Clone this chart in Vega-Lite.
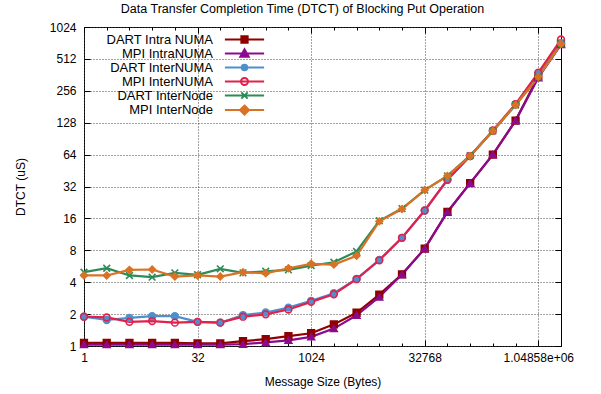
{
  "$schema": "https://vega.github.io/schema/vega-lite/v6.json",
  "width": 477,
  "height": 319,
  "autosize": {"type": "none"},
  "padding": {"left": 84, "top": 27, "right": 40, "bottom": 48},
  "config": {
    "font": "Liberation Sans",
    "view": {"stroke": "#000", "strokeWidth": 1},
    "axis": {"labelFont": "Liberation Sans", "titleFont": "Liberation Sans", "labelFontSize": 12, "titleFontSize": 12, "titleFontWeight": "normal", "labelColor": "#000", "titleColor": "#000", "tickColor": "#000", "domain": false}
  },
  "title": {"text": "Data Transfer Completion Time (DTCT) of Blocking Put Operation", "fontSize": 12.5, "fontWeight": "normal", "font": "Liberation Sans", "color": "#000", "anchor": "middle", "offset": 6, "dx": -20},
  "data": {"values": [
    {"s": "DART Intra NUMA", "x": 1, "y": 1.07}, {"s": "DART Intra NUMA", "x": 2, "y": 1.07}, {"s": "DART Intra NUMA", "x": 4, "y": 1.07}, {"s": "DART Intra NUMA", "x": 8, "y": 1.07}, {"s": "DART Intra NUMA", "x": 16, "y": 1.07}, {"s": "DART Intra NUMA", "x": 32, "y": 1.06}, {"s": "DART Intra NUMA", "x": 64, "y": 1.06}, {"s": "DART Intra NUMA", "x": 128, "y": 1.11}, {"s": "DART Intra NUMA", "x": 256, "y": 1.16}, {"s": "DART Intra NUMA", "x": 512, "y": 1.24}, {"s": "DART Intra NUMA", "x": 1024, "y": 1.32}, {"s": "DART Intra NUMA", "x": 2048, "y": 1.6}, {"s": "DART Intra NUMA", "x": 4096, "y": 2.06}, {"s": "DART Intra NUMA", "x": 8192, "y": 3.05}, {"s": "DART Intra NUMA", "x": 16384, "y": 4.75}, {"s": "DART Intra NUMA", "x": 32768, "y": 8.3}, {"s": "DART Intra NUMA", "x": 65536, "y": 18.4}, {"s": "DART Intra NUMA", "x": 131072, "y": 34.4}, {"s": "DART Intra NUMA", "x": 262144, "y": 64}, {"s": "DART Intra NUMA", "x": 524288, "y": 134}, {"s": "DART Intra NUMA", "x": 1048576, "y": 350}, {"s": "DART Intra NUMA", "x": 2097152, "y": 710},
    {"s": "MPI IntraNUMA", "x": 1, "y": 1.03}, {"s": "MPI IntraNUMA", "x": 2, "y": 1.03}, {"s": "MPI IntraNUMA", "x": 4, "y": 1.03}, {"s": "MPI IntraNUMA", "x": 8, "y": 1.03}, {"s": "MPI IntraNUMA", "x": 16, "y": 1.03}, {"s": "MPI IntraNUMA", "x": 32, "y": 1.03}, {"s": "MPI IntraNUMA", "x": 64, "y": 1.03}, {"s": "MPI IntraNUMA", "x": 128, "y": 1.04}, {"s": "MPI IntraNUMA", "x": 256, "y": 1.08}, {"s": "MPI IntraNUMA", "x": 512, "y": 1.13}, {"s": "MPI IntraNUMA", "x": 1024, "y": 1.22}, {"s": "MPI IntraNUMA", "x": 2048, "y": 1.46}, {"s": "MPI IntraNUMA", "x": 4096, "y": 1.95}, {"s": "MPI IntraNUMA", "x": 8192, "y": 2.9}, {"s": "MPI IntraNUMA", "x": 16384, "y": 4.72}, {"s": "MPI IntraNUMA", "x": 32768, "y": 8.3}, {"s": "MPI IntraNUMA", "x": 65536, "y": 18.4}, {"s": "MPI IntraNUMA", "x": 131072, "y": 34.4}, {"s": "MPI IntraNUMA", "x": 262144, "y": 64}, {"s": "MPI IntraNUMA", "x": 524288, "y": 134}, {"s": "MPI IntraNUMA", "x": 1048576, "y": 340}, {"s": "MPI IntraNUMA", "x": 2097152, "y": 700},
    {"s": "DART InterNUMA", "x": 1, "y": 1.89}, {"s": "DART InterNUMA", "x": 2, "y": 1.76}, {"s": "DART InterNUMA", "x": 4, "y": 1.84}, {"s": "DART InterNUMA", "x": 8, "y": 1.91}, {"s": "DART InterNUMA", "x": 16, "y": 1.91}, {"s": "DART InterNUMA", "x": 32, "y": 1.69}, {"s": "DART InterNUMA", "x": 64, "y": 1.66}, {"s": "DART InterNUMA", "x": 128, "y": 1.96}, {"s": "DART InterNUMA", "x": 256, "y": 2.07}, {"s": "DART InterNUMA", "x": 512, "y": 2.3}, {"s": "DART InterNUMA", "x": 1024, "y": 2.67}, {"s": "DART InterNUMA", "x": 2048, "y": 3.15}, {"s": "DART InterNUMA", "x": 4096, "y": 4.3}, {"s": "DART InterNUMA", "x": 8192, "y": 6.5}, {"s": "DART InterNUMA", "x": 16384, "y": 10.5}, {"s": "DART InterNUMA", "x": 32768, "y": 19}, {"s": "DART InterNUMA", "x": 65536, "y": 37}, {"s": "DART InterNUMA", "x": 131072, "y": 62}, {"s": "DART InterNUMA", "x": 262144, "y": 107}, {"s": "DART InterNUMA", "x": 524288, "y": 190}, {"s": "DART InterNUMA", "x": 1048576, "y": 370}, {"s": "DART InterNUMA", "x": 2097152, "y": 720},
    {"s": "MPI InterNUMA", "x": 1, "y": 1.89}, {"s": "MPI InterNUMA", "x": 2, "y": 1.86}, {"s": "MPI InterNUMA", "x": 4, "y": 1.69}, {"s": "MPI InterNUMA", "x": 8, "y": 1.72}, {"s": "MPI InterNUMA", "x": 16, "y": 1.66}, {"s": "MPI InterNUMA", "x": 32, "y": 1.69}, {"s": "MPI InterNUMA", "x": 64, "y": 1.66}, {"s": "MPI InterNUMA", "x": 128, "y": 1.89}, {"s": "MPI InterNUMA", "x": 256, "y": 1.99}, {"s": "MPI InterNUMA", "x": 512, "y": 2.21}, {"s": "MPI InterNUMA", "x": 1024, "y": 2.61}, {"s": "MPI InterNUMA", "x": 2048, "y": 3.08}, {"s": "MPI InterNUMA", "x": 4096, "y": 4.27}, {"s": "MPI InterNUMA", "x": 8192, "y": 6.44}, {"s": "MPI InterNUMA", "x": 16384, "y": 10.5}, {"s": "MPI InterNUMA", "x": 32768, "y": 19}, {"s": "MPI InterNUMA", "x": 65536, "y": 37}, {"s": "MPI InterNUMA", "x": 131072, "y": 62}, {"s": "MPI InterNUMA", "x": 262144, "y": 108}, {"s": "MPI InterNUMA", "x": 524288, "y": 192}, {"s": "MPI InterNUMA", "x": 1048576, "y": 380}, {"s": "MPI InterNUMA", "x": 2097152, "y": 780},
    {"s": "DART InterNode", "x": 1, "y": 4.97}, {"s": "DART InterNode", "x": 2, "y": 5.42}, {"s": "DART InterNode", "x": 4, "y": 4.63}, {"s": "DART InterNode", "x": 8, "y": 4.46}, {"s": "DART InterNode", "x": 16, "y": 4.9}, {"s": "DART InterNode", "x": 32, "y": 4.7}, {"s": "DART InterNode", "x": 64, "y": 5.35}, {"s": "DART InterNode", "x": 128, "y": 4.9}, {"s": "DART InterNode", "x": 256, "y": 5.07}, {"s": "DART InterNode", "x": 512, "y": 5.23}, {"s": "DART InterNode", "x": 1024, "y": 5.74}, {"s": "DART InterNode", "x": 2048, "y": 6.17}, {"s": "DART InterNode", "x": 4096, "y": 7.8}, {"s": "DART InterNode", "x": 8192, "y": 15.2}, {"s": "DART InterNode", "x": 16384, "y": 19.8}, {"s": "DART InterNode", "x": 32768, "y": 29.6}, {"s": "DART InterNode", "x": 65536, "y": 40.3}, {"s": "DART InterNode", "x": 131072, "y": 62.5}, {"s": "DART InterNode", "x": 262144, "y": 107}, {"s": "DART InterNode", "x": 524288, "y": 188}, {"s": "DART InterNode", "x": 1048576, "y": 345}, {"s": "DART InterNode", "x": 2097152, "y": 710},
    {"s": "MPI InterNode", "x": 1, "y": 4.63}, {"s": "MPI InterNode", "x": 2, "y": 4.63}, {"s": "MPI InterNode", "x": 4, "y": 5.23}, {"s": "MPI InterNode", "x": 8, "y": 5.27}, {"s": "MPI InterNode", "x": 16, "y": 4.52}, {"s": "MPI InterNode", "x": 32, "y": 4.63}, {"s": "MPI InterNode", "x": 64, "y": 4.52}, {"s": "MPI InterNode", "x": 128, "y": 4.97}, {"s": "MPI InterNode", "x": 256, "y": 4.85}, {"s": "MPI InterNode", "x": 512, "y": 5.42}, {"s": "MPI InterNode", "x": 1024, "y": 5.96}, {"s": "MPI InterNode", "x": 2048, "y": 5.87}, {"s": "MPI InterNode", "x": 4096, "y": 7.1}, {"s": "MPI InterNode", "x": 8192, "y": 15}, {"s": "MPI InterNode", "x": 16384, "y": 19.6}, {"s": "MPI InterNode", "x": 32768, "y": 29.6}, {"s": "MPI InterNode", "x": 65536, "y": 40.3}, {"s": "MPI InterNode", "x": 131072, "y": 62.2}, {"s": "MPI InterNode", "x": 262144, "y": 107}, {"s": "MPI InterNode", "x": 524288, "y": 188}, {"s": "MPI InterNode", "x": 1048576, "y": 345}, {"s": "MPI InterNode", "x": 2097152, "y": 709}
  ]},
  "layer": [
    {
      "mark": {"type": "line", "strokeWidth": 2.2, "clip": true},
      "encoding": {
        "x": {"field": "x", "type": "quantitative",
          "scale": {"type": "log", "base": 2, "domain": [1, 2097152], "nice": false},
          "axis": {"orient": "bottom", "title": "Message Size (Bytes)", "titlePadding": 10,
            "values": [1,2,4,8,16,32,64,128,256,512,1024,2048,4096,8192,16384,32768,65536,131072,262144,524288,1048576,2097152],
            "labelExpr": "datum.value == 1048576 ? '1.04858e+06' : (indexof([1,32,1024,32768], datum.value) >= 0 ? '' + datum.value : '')",
            "labelFlush": false, "labelOverlap": false, "labelPadding": 12,
            "tickSize": {"condition": {"test": "indexof([1,32,1024,32768,1048576], datum.value) >= 0", "value": -6}, "value": -3},
            "grid": true, "gridDash": [1, 2], "gridColor": "#444",
            "gridOpacity": {"condition": {"test": "indexof([1,32,1024,32768,1048576], datum.value) >= 0", "value": 1}, "value": 0}}},
        "y": {"field": "y", "type": "quantitative",
          "scale": {"type": "log", "base": 2, "domain": [1, 1024], "nice": false},
          "axis": {"orient": "left", "title": "DTCT (uS)", "titlePadding": 22,
            "values": [1,2,4,8,16,32,64,128,256,512,1024], "format": "d",
            "labelPadding": 14, "tickSize": -6, "grid": true, "gridDash": [1, 2], "gridColor": "#444"}},
        "color": {"field": "s", "type": "nominal",
          "scale": {"domain": ["DART Intra NUMA", "MPI IntraNUMA", "DART InterNUMA", "MPI InterNUMA", "DART InterNode", "MPI InterNode"],
            "range": ["#8f0000", "#8b0a8f", "#4f8fcc", "#e3204c", "#2e8b57", "#da7224"]},
          "legend": {"title": null, "orient": "none", "legendX": 154, "legendY": 6, "padding": 0,
            "labelAlign": "right", "labelOffset": -38, "labelFontSize": 13, "labelFont": "Liberation Sans", "labelColor": "#000", "labelLimit": 0,
            "symbolSize": 49, "symbolStrokeWidth": 2, "rowPadding": -2.4,
            "encode": {"symbols": {"update": {
              "shape": {"signal": "['M-5.6,0H5.6M-0.9,-0.9H0.9V0.9H-0.9Z','M-5.6,0H5.6M0,-1.2L1.2,0.9H-1.2Z','M-5.6,0H5.6M0.8,0A0.8,0.8,0,1,1,-0.8,0A0.8,0.8,0,1,1,0.8,0Z','M-5.6,0H5.6M1,0A1,1,0,1,1,-1,0A1,1,0,1,1,1,0Z','M-5.6,0H5.6M-0.9,-0.9L0.9,0.9M-0.9,0.9L0.9,-0.9','M-5.6,0H5.6M0,-1.3L1.3,0L0,1.3L-1.3,0Z'][indexof(['DART Intra NUMA','MPI IntraNUMA','DART InterNUMA','MPI InterNUMA','DART InterNode','MPI InterNode'], datum.value)]"},
              "fill": {"signal": "['#8f0000','#8b0a8f','#4f8fcc','transparent','#2e8b57','#da7224'][indexof(['DART Intra NUMA','MPI IntraNUMA','DART InterNUMA','MPI InterNUMA','DART InterNode','MPI InterNode'], datum.value)]"},
              "strokeWidth": {"value": 2},
              "opacity": {"value": 1}}}}}}
      }
    },
    {
      "mark": {"type": "point", "size": 45, "strokeWidth": 1.6, "opacity": 1},
      "encoding": {
        "x": {"field": "x", "type": "quantitative",
          "scale": {"type": "log", "base": 2, "domain": [1, 2097152], "nice": false},
          "axis": {"orient": "top", "title": null, "labels": false, "grid": false,
            "values": [1,2,4,8,16,32,64,128,256,512,1024,2048,4096,8192,16384,32768,65536,131072,262144,524288,1048576,2097152],
            "tickSize": {"condition": {"test": "indexof([1,32,1024,32768,1048576], datum.value) >= 0", "value": -6}, "value": -3}}},
        "y": {"field": "y", "type": "quantitative",
          "scale": {"type": "log", "base": 2, "domain": [1, 1024], "nice": false},
          "axis": {"orient": "right", "title": null, "labels": false, "grid": false, "tickSize": -6,
            "values": [1,2,4,8,16,32,64,128,256,512,1024]}},
        "fill": {"field": "s", "type": "nominal", "legend": null,
          "scale": {"domain": ["MPI InterNode", "DART InterNode", "MPI InterNUMA", "DART InterNUMA", "MPI IntraNUMA", "DART Intra NUMA"],
            "range": ["#da7224", "#2e8b57", "transparent", "#4f8fcc", "#8b0a8f", "#8f0000"]}},
        "stroke": {"field": "s", "type": "nominal", "legend": null,
          "scale": {"domain": ["MPI InterNode", "DART InterNode", "MPI InterNUMA", "DART InterNUMA", "MPI IntraNUMA", "DART Intra NUMA"],
            "range": ["#da7224", "#2e8b57", "#e3204c", "#4f8fcc", "#8b0a8f", "#8f0000"]}},
        "shape": {"field": "s", "type": "nominal", "legend": null,
          "scale": {"domain": ["MPI InterNode", "DART InterNode", "MPI InterNUMA", "DART InterNUMA", "MPI IntraNUMA", "DART Intra NUMA"],
            "range": ["diamond", "M-1,-1L1,1M-1,1L1,-1", "circle", "circle", "triangle-up", "square"]}}
      }
    }
  ],
  "resolve": {"axis": {"x": "independent", "y": "independent"}}
}
